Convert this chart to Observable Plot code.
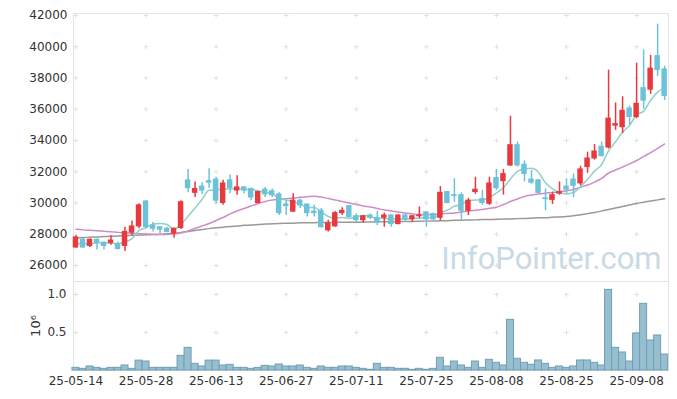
<!DOCTYPE html>
<html><head><meta charset="utf-8">
<script src="https://cdn.jsdelivr.net/npm/d3@7"></script>
<script src="https://cdn.jsdelivr.net/npm/@observablehq/plot@0.6"></script>
<style>
body{margin:0;background:#fff;}
#chart{position:relative;width:677px;height:399px;overflow:hidden;}
#chart svg{position:absolute;left:0;}
</style></head><body><div id="chart"></div>
<script>
const dates = [
"2025-05-14","2025-05-15","2025-05-16","2025-05-19","2025-05-20","2025-05-21","2025-05-22","2025-05-23","2025-05-26","2025-05-27",
"2025-05-28","2025-05-29","2025-05-30","2025-06-02","2025-06-04","2025-06-05","2025-06-09","2025-06-10","2025-06-11","2025-06-12",
"2025-06-13","2025-06-16","2025-06-17","2025-06-18","2025-06-19","2025-06-20","2025-06-23","2025-06-24","2025-06-25","2025-06-26",
"2025-06-27","2025-06-30","2025-07-01","2025-07-02","2025-07-03","2025-07-04","2025-07-07","2025-07-08","2025-07-09","2025-07-10",
"2025-07-11","2025-07-14","2025-07-15","2025-07-16","2025-07-17","2025-07-18","2025-07-21","2025-07-22","2025-07-23","2025-07-24",
"2025-07-25","2025-07-28","2025-07-29","2025-07-30","2025-07-31","2025-08-01","2025-08-04","2025-08-05","2025-08-06","2025-08-07",
"2025-08-08","2025-08-11","2025-08-12","2025-08-13","2025-08-14","2025-08-18","2025-08-19","2025-08-20","2025-08-21","2025-08-22",
"2025-08-25","2025-08-26","2025-08-27","2025-08-28","2025-08-29","2025-09-01","2025-09-02","2025-09-03","2025-09-04","2025-09-05",
"2025-09-08","2025-09-09","2025-09-10","2025-09-11","2025-09-12"];
const tickLabels = ["25-05-14","25-05-28","25-06-13","25-06-27","25-07-11","25-07-25","25-08-08","25-08-25","25-09-08"];
const priceTicks = [26000,28000,30000,32000,34000,36000,38000,40000,42000];
const volumeTicks = [500000,1000000];

const open = [27150,27650,27250,27650,27450,27450,27350,27250,28100,28500,
30100,28550,28450,28350,28050,28400,31450,30650,31050,31400,
31500,30000,31450,30800,31000,30900,30000,30850,30750,30550,
29900,29450,30150,29900,29450,29500,28250,28500,29350,29800,
29150,28900,29200,29050,29050,29200,28650,29200,28950,29150,
29400,29300,29050,30700,30500,30500,29500,30700,30250,29950,
31600,31400,32400,33700,32450,31500,31450,30300,30200,30600,
31050,31500,31250,32300,32850,33600,33550,34950,34850,36050,
35500,37350,37250,39400,38550];
const close = [27800,27150,27650,27450,27250,27600,27050,28150,28500,29850,
28450,28350,28300,28150,28350,30050,30950,30900,30800,31300,
30150,31250,30950,31000,30800,30350,30700,30550,30500,29350,
29800,30150,29850,29350,29350,28450,28700,29350,29500,29100,
28900,29150,29050,28750,29200,28650,29200,28950,29150,29200,
28950,28950,30650,30000,30450,29500,30150,30850,30000,31250,
30950,31850,33700,32400,31850,31300,30650,30250,30500,30700,
30850,31100,32150,32850,33300,33000,35400,35050,35900,35500,
36350,36550,38600,38500,36850];
const high = [27900,27750,27700,27700,27500,27900,27500,28450,28850,29950,
30150,28750,28500,28450,28400,30150,32150,31350,31300,32200,
31650,31450,31800,31750,31050,30950,30750,31000,30900,30650,
30150,30600,30250,29950,29850,29650,28900,29450,29700,29850,
29300,29200,29300,29450,29350,29250,29250,29350,29200,29750,
29450,29350,31050,30750,31550,30650,30300,31650,30800,31650,
32150,32150,35550,33900,32700,32100,31500,30900,30700,31350,
31550,31850,32350,33250,33750,33900,38500,36400,36800,36200,
38950,39800,39450,41450,38750];
const low = [27100,27100,27150,27000,27000,27300,27000,26900,27900,28350,
28350,28150,28050,28100,27750,28300,30650,30350,30550,30950,
29950,29850,30600,30500,30600,30150,29950,30350,30350,29200,
29200,29400,29650,29100,29100,28400,28150,28450,29200,29050,
28750,28700,28950,28550,28450,28450,28600,28750,28750,29000,
28450,28900,28850,29950,30050,28900,29200,30550,29850,29850,
30800,30500,32350,32300,31350,31200,30600,29500,29900,30500,
30600,30350,31100,31900,32750,32950,33450,34650,34450,34950,
35400,36000,36950,38100,36550];
const volume = [35000,22000,53000,35000,22000,35000,35000,66000,22000,130000,
118000,35000,35000,35000,35000,193000,298000,88000,53000,130000,
130000,66000,75000,35000,35000,22000,35000,61000,53000,79000,
53000,53000,66000,35000,22000,53000,35000,35000,53000,53000,
35000,22000,9000,88000,35000,35000,22000,22000,9000,22000,
9000,22000,167000,53000,118000,66000,35000,118000,35000,140000,
101000,66000,667000,154000,101000,75000,132000,88000,35000,53000,
35000,53000,132000,132000,101000,66000,1061000,298000,237000,118000,
487000,877000,395000,461000,210000];
const ma5 = [27410,27390,27410,27440,27470,27430,27400,27500,27720,28230,
28410,28660,28690,28620,28320,28630,29160,29680,30220,30810,
30830,30900,30900,30940,30840,30880,30770,30690,30590,30290,
30190,30080,29940,29710,29710,29430,29140,29040,29070,29020,
29120,29200,29140,29000,29010,28960,28980,28960,29030,29030,
29090,29030,29370,29540,29800,29910,30160,30200,30200,30350,
30640,30980,31540,32030,32160,32220,31970,31290,30900,30670,
30580,30670,31050,31520,32040,32460,33330,33920,34530,34970,
35650,35880,36580,37100,37370];
const ma20 = [28320,28280,28250,28220,28190,28160,28120,28090,28060,28040,
28020,28000,27980,27980,28020,28080,28210,28370,28530,28690,
28880,29070,29300,29490,29650,29810,29970,30100,30190,30240,
30280,30320,30370,30400,30430,30380,30290,30190,30100,30000,
29900,29810,29740,29650,29550,29490,29420,29360,29300,29260,
29250,29260,29300,29330,29360,29420,29490,29530,29580,29660,
29730,29900,30100,30260,30420,30510,30580,30630,30670,30720,
30780,30860,31010,31150,31340,31570,31920,32110,32300,32500,
32720,32980,33230,33490,33780];
const ma60 = [27770,27790,27810,27830,27850,27870,27890,27910,27930,27950,
27970,27980,28000,28030,28070,28120,28180,28240,28300,28360,
28410,28450,28500,28530,28570,28590,28620,28650,28670,28690,
28700,28710,28730,28740,28740,28750,28750,28760,28770,28770,
28770,28780,28780,28790,28800,28800,28810,28820,28820,28830,
28840,28850,28860,28870,28890,28900,28910,28920,28940,28940,
28960,28970,28980,29000,29010,29030,29050,29060,29090,29110,
29140,29190,29250,29320,29390,29480,29580,29680,29780,29870,
29970,30050,30130,30200,30270];

const RED = "#e8393e", CYAN = "#6cc2d8";
const rows = dates.map((d, i) => ({
  i, date: d, open: open[i], high: high[i], low: low[i], close: close[i],
  volume: volume[i], ma5: ma5[i], ma20: ma20[i], ma60: ma60[i], up: close[i] >= open[i]
}));
const tickIndex = tickLabels.map(l => dates.indexOf("20" + l));
const crossesP = tickIndex.flatMap(x => priceTicks.map(y => ({x, y})));
const crossesV = tickIndex.flatMap(x => volumeTicks.map(y => ({x, y})));

const W = 677;
const xDomain = [-0.35, 84.55];
const baseStyle = {fontFamily: "DejaVu Sans", fontSize: "12px", color: "#333", background: "transparent", overflow: "visible"};

const price = Plot.plot({
  width: W, height: 281, marginLeft: 73, marginRight: 9, marginTop: 13, marginBottom: 0,
  style: baseStyle,
  x: {type: "linear", domain: xDomain, axis: null},
  y: {domain: [24976, 42128], axis: null},
  marks: [
    Plot.frame({stroke: "#e3e3e3"}),
    Plot.dot(crossesP, {x: "x", y: "y", symbol: "plus", r: 1.6, stroke: "#e0e0e0", strokeWidth: 1}),
    Plot.axisY({ticks: priceTicks, tickSize: 0, tickPadding: 6, tickFormat: d => String(d), label: null}),
    Plot.text(["InfoPointer.com"], {frameAnchor: "bottom-right", text: d => d, textAnchor: "end", lineAnchor: "bottom",
      dx: -7, dy: -13, fontSize: 31, fontFamily: "Roboto", fill: "#c8dae5"}),
    Plot.line(rows, {x: "i", y: "ma60", stroke: "#999999", strokeWidth: 1.5, curve: "monotone-x"}),
    Plot.line(rows, {x: "i", y: "ma20", stroke: "#cf8cc6", strokeWidth: 1.5, curve: "monotone-x"}),
    Plot.line(rows, {x: "i", y: "ma5", stroke: "#8fd0c7", strokeWidth: 1.5, curve: "monotone-x"}),
    Plot.ruleX(rows, {x: "i", y1: "low", y2: "high", stroke: d => d.up ? RED : CYAN, strokeWidth: 1.5}),
    Plot.rect(rows, {x1: d => d.i - 0.39, x2: d => d.i + 0.39, y1: "open", y2: "close",
      fill: d => d.up ? RED : CYAN, insetTop: -0.5, insetBottom: -0.5})
  ]
});
price.style.top = "0px";

const vol = Plot.plot({
  width: W, height: 119, marginLeft: 73, marginRight: 9, marginTop: 1, marginBottom: 29,
  style: baseStyle,
  x: {type: "linear", domain: xDomain, axis: null},
  y: {domain: [0, 1171000], axis: null},
  marks: [
    Plot.frame({stroke: "#e3e3e3"}),
    Plot.dot(crossesV, {x: "x", y: "y", symbol: "plus", r: 1.6, stroke: "#e0e0e0", strokeWidth: 1}),
    Plot.rect(rows, {x1: d => d.i - 0.5, x2: d => d.i + 0.5, y1: 0, y2: "volume",
      fill: "#98bfd0", stroke: "#6f9fb6", strokeWidth: 1}),
    Plot.axisY({ticks: volumeTicks, tickSize: 0, tickPadding: 7, tickFormat: d => (d / 1e6).toFixed(1), label: null}),
    Plot.text(["10⁶"], {frameAnchor: "left", text: d => d, dx: -38, rotate: -90, textAnchor: "middle", fontSize: 13, fill: "#333"}),
    Plot.axisX({ticks: tickIndex, tickSize: 0, tickPadding: 6, tickFormat: d => tickLabels[tickIndex.indexOf(d)], label: null})
  ]
});
vol.style.top = "280px";

const chart = document.getElementById("chart");
chart.appendChild(price);
chart.appendChild(vol);
</script>
</body></html>
